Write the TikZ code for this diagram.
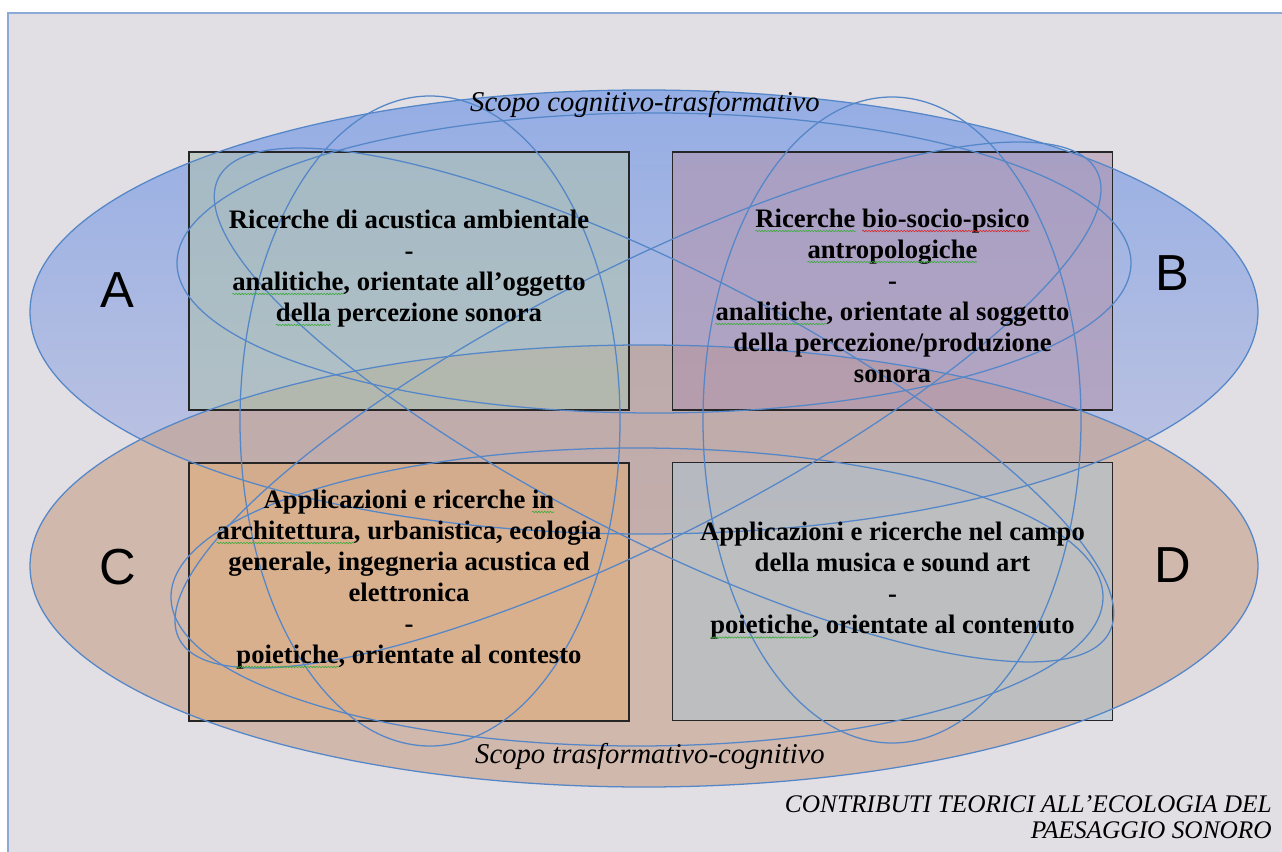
\documentclass[tikz,border=0pt]{standalone}
\usepackage{fontspec}
\setmainfont{Liberation Serif}
\newfontfamily\lettersans{Liberation Sans}
\usetikzlibrary{decorations.pathmorphing}

\definecolor{pagebg}{RGB}{225,222,228}
\definecolor{framec}{RGB}{140,170,215}
\definecolor{orbit}{RGB}{85,135,200}
\definecolor{bluetop}{RGB}{148,173,228}
\definecolor{bluebot}{RGB}{195,198,225}
\definecolor{orangefill}{RGB}{197,159,135}
\definecolor{fillA}{RGB}{173,193,178}
\definecolor{fillB}{RGB}{177,148,175}
\definecolor{fillC}{RGB}{222,172,122}
\definecolor{fillD}{RGB}{175,194,205}
\definecolor{sqgreen}{RGB}{60,170,60}
\definecolor{sqred}{RGB}{215,40,40}

% wavy spell-check underline below a word
\newsavebox\sqbox
\newcommand\squig[2]{\sbox\sqbox{#2}\usebox\sqbox\tikz[overlay,baseline=0pt]\draw[#1, line width=0.45pt, decorate, decoration={snake, amplitude=0.55pt, segment length=2.2pt}] (-\wd\sqbox,-2.8pt) -- (0pt,-2.8pt);}

\begin{document}
\begin{tikzpicture}[x=0.75pt, y=-0.75pt,
  orbit/.style={draw=orbit, line width=0.95pt},
  panel/.style={draw=black!85, line width=1.1pt, fill opacity=0.6, text opacity=1, inner sep=0pt,
                minimum width=330pt, minimum height=193.5pt},
  paneltext/.style={align=center, font=\fontsize{20}{23.25}\selectfont\bfseries, text=black, inner sep=0pt},
  corner/.style={font=\lettersans\fontsize{38}{38}\selectfont, text=black, inner sep=0pt},
  scopo/.style={font=\fontsize{21.5}{24}\selectfont\itshape, text=black, inner sep=0pt},
]
\useasboundingbox (0,0) rectangle (1282,852);
\fill[white] (0,0) rectangle (1282,852);
\draw[framec, fill=pagebg, line width=1.1pt] (8,13) rectangle (1300,870);

% the two large areas
\shade[top color=bluetop, bottom color=bluebot] (644,312) ellipse [x radius=614, y radius=222];
\fill[orangefill, fill opacity=0.6] (644,566) ellipse [x radius=614, y radius=221];

% the four panels
\node[panel, fill=fillA] (boxA) at (409,281) {};
\node[panel, fill=fillB] (boxB) at (892.5,281) {};
\node[panel, fill=fillC] (boxC) at (409,592) {};
\node[panel, fill=fillD] (boxD) at (892.5,591.5) {};

% outlines of the large areas
\draw[orbit] (644,312) ellipse [x radius=614, y radius=222];
\draw[orbit] (644,566) ellipse [x radius=614, y radius=221];

% orbit ellipses
\draw[orbit] (430,421) ellipse [x radius=190, y radius=325];
\draw[orbit] (892,420) ellipse [x radius=189, y radius=323];
\draw[orbit] (654,263) ellipse [x radius=477, y radius=150];
\draw[orbit] (637,597) ellipse [x radius=466, y radius=149];
\draw[orbit, rotate around={-27:(664,405)}] (664,405) ellipse [x radius=500, y radius=135];
\draw[orbit, rotate around={27:(638,405)}] (638,405) ellipse [x radius=515, y radius=135];

% panel texts
\node[paneltext] (tA) at ([yshift=9.5pt]boxA.center)
  {Ricerche di acustica ambientale\\-\\\squig{sqgreen}{analitiche}, orientate all’oggetto\\\squig{sqgreen}{della} percezione sonora};
\node[paneltext] (tB) at ([yshift=-11pt]boxB.center)
  {\squig{sqgreen}{Ricerche} \squig{sqred}{bio-socio-psico}\\\squig{sqgreen}{antropologiche}\\-\\\squig{sqgreen}{analitiche}, orientate al soggetto\\della percezione/produzione\\sonora};
\node[paneltext] (tC) at ([yshift=9.5pt]boxC.center)
  {Applicazioni e ricerche \squig{sqgreen}{in}\\\squig{sqgreen}{architettura}, urbanistica, ecologia\\generale, ingegneria acustica ed\\elettronica\\-\\\squig{sqgreen}{poietiche}, orientate al contesto};
\node[paneltext] (tD) at ([yshift=8pt]boxD.center)
  {Applicazioni e ricerche nel campo\\della musica e sound art\\-\\\squig{sqgreen}{poietiche}, orientate al contenuto};

% quadrant letters
\node[corner] (lA) at (117,290) {A};
\node[corner] (lB) at (1172,273) {B};
\node[corner] (lC) at (118,567) {C};
\node[corner] (lD) at (1173,565) {D};

% scope labels
\node[scopo] (sTop) at (645,104) {Scopo cognitivo-trasformativo};
\node[scopo] (sBot) at (650,756) {Scopo trasformativo-cognitivo};

% title
\node[anchor=east, align=right, inner sep=0pt, font=\fontsize{19}{19.5}\selectfont\itshape] (title) at (1272,817)
  {CONTRIBUTI TEORICI ALL’ECOLOGIA DEL\\PAESAGGIO SONORO};
\end{tikzpicture}
\end{document}
